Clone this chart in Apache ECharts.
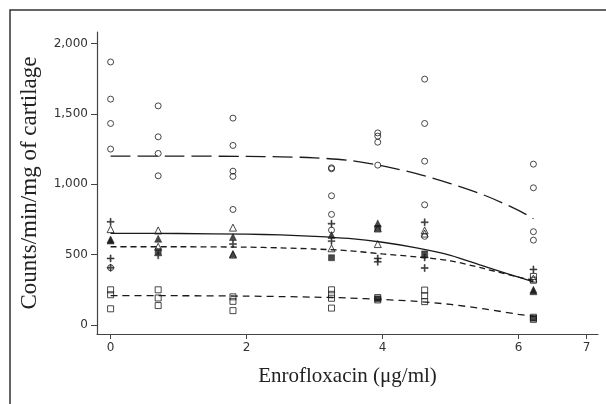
<!DOCTYPE html>
<html>
<head>
<meta charset="utf-8">
<script src="https://cdn.jsdelivr.net/npm/echarts@6/dist/echarts.min.js"></script>
<style>
html, body { margin: 0; padding: 0; background: #fff; }
#chart { width: 606px; height: 404px; }
</style>
</head>
<body>
<div id="chart"></div>
<script>
// tick positions
var xTicks = [0, 2, 4, 6, 7];
var yTicks = [0, 500, 1000, 1500, 2000];

// points, [concentration, counts]
var circles = [
    [0, 1869], [0, 1605], [0, 1432], [0, 1250], [0, 407],
    [0.7, 1557], [0.7, 1337], [0.7, 1219], [0.7, 1060],
    [1.8, 1470], [1.8, 1276], [1.8, 1093], [1.8, 1056], [1.8, 821],
    [3.25, 1117], [3.25, 1110], [3.25, 918], [3.25, 786], [3.25, 674],
    [3.93, 1365], [3.93, 1342], [3.93, 1299], [3.93, 1136],
    [4.62, 1747], [4.62, 1432], [4.62, 1164], [4.62, 854], [4.62, 630],
    [6.22, 1143], [6.22, 975], [6.22, 663], [6.22, 603]
];
var triOpen = [
    [0, 681], [0.7, 672], [0.7, 556], [1.8, 692], [1.8, 500],
    [3.25, 545], [3.93, 686], [3.93, 575], [4.62, 672], [4.62, 650], [6.22, 330]
];
var triFilled = [
    [0, 608], [0, 600], [0.7, 613], [1.8, 625], [1.8, 505],
    [3.25, 639], [3.93, 722], [6.22, 250], [6.22, 240]
];
var plus = [
    [0, 733], [0, 473], [0, 407], [0.7, 495], [1.8, 575],
    [3.25, 720], [3.25, 596], [3.93, 473], [3.93, 449],
    [4.62, 730], [4.62, 480], [4.62, 405], [6.22, 395]
];
var sqOpen = [
    [0, 250], [0, 215], [0, 115], [0.7, 250], [0.7, 192], [0.7, 138],
    [1.8, 200], [1.8, 168], [1.8, 102],
    [3.25, 250], [3.25, 218], [3.25, 190], [3.25, 120],
    [3.93, 195], [3.93, 178], [4.62, 248], [4.62, 208], [4.62, 166],
    [6.22, 345], [6.22, 318], [6.22, 55], [6.22, 40]
];
var sqFilled = [
    [0.7, 522], [3.25, 478], [3.93, 686], [3.93, 186], [4.62, 505], [6.22, 48]
];

// fitted curves
var fitCircles = [[0, 1200], [1, 1200], [2, 1198], [2.5, 1195], [3, 1188], [3.5, 1170], [4, 1130], [4.5, 1075], [5, 1005], [5.5, 922], [6, 815], [6.22, 755]];
var fitTri = [[0, 651], [1, 650], [2, 645], [2.5, 640], [3, 630], [3.5, 615], [4, 588], [4.5, 548], [5, 495], [5.5, 416], [6, 340], [6.22, 307]];
var fitPlus = [[0, 556], [1, 556], [2, 553], [2.5, 548], [3, 540], [3.5, 528], [4, 505], [4.5, 484], [5, 456], [5.5, 400], [6, 340], [6.22, 318]];
var fitSq = [[0, 208], [1, 208], [2, 205], [2.5, 202], [3, 198], [3.5, 192], [4, 181], [4.5, 168], [5, 146], [5.5, 114], [6, 76], [6.22, 62]];

var ink = '#1a1a1a';
var plusPath = 'path://M4.3,0H5.7V4.3H10V5.7H5.7V10H4.3V5.7H0V4.3H4.3Z';

function fitLine(data, dash) {
    return {
        type: 'line', data: data, smooth: 0.3, showSymbol: false, silent: true,
        lineStyle: { color: ink, width: 1.3, type: dash }
    };
}

function marks(data, symbol, size, filled) {
    return {
        type: 'scatter', data: data, symbol: symbol, symbolSize: size, silent: true,
        itemStyle: {
            color: filled ? ink : 'rgba(255,255,255,0)',
            borderColor: ink,
            borderWidth: filled ? 0.6 : 1
        }
    };
}

var chart = echarts.init(document.getElementById('chart'), null, { renderer: 'canvas' });
chart.setOption({
    animation: false,
    backgroundColor: '#fff',
    graphic: [{
        type: 'rect', silent: true,
        shape: { x: 10, y: 10, width: 640, height: 440 },
        style: { fill: 'none', stroke: '#333', lineWidth: 1.5 }
    }],
    grid: { left: 97, right: 8, top: 32, bottom: 70 },
    xAxis: {
        type: 'value', min: -0.2, max: 7.17,
        name: 'Enrofloxacin (\u03bcg/ml)', nameLocation: 'middle', nameGap: 32,
        nameTextStyle: { fontFamily: 'Liberation Serif', fontSize: 21, color: '#222' },
        axisLine: { onZero: false, lineStyle: { color: '#444', width: 1.2 } },
        axisTick: { customValues: xTicks, length: 5, lineStyle: { color: '#444' } },
        axisLabel: { customValues: xTicks, margin: 8, fontFamily: 'DejaVu Sans', fontSize: 12, color: '#333' },
        splitLine: { show: false }
    },
    yAxis: {
        type: 'value', min: -64, max: 2082,
        name: 'Counts/min/mg of cartilage', nameLocation: 'middle', nameGap: 56,
        nameTextStyle: { fontFamily: 'Liberation Serif', fontSize: 23, color: '#222' },
        axisLine: { show: true, onZero: false, lineStyle: { color: '#444', width: 1.2 } },
        axisTick: { show: true, customValues: yTicks, length: 6, lineStyle: { color: '#444' } },
        axisLabel: {
            customValues: yTicks, margin: 9, fontFamily: 'DejaVu Sans', fontSize: 12, color: '#333',
            formatter: function (v) { return v.toLocaleString('en-US'); }
        },
        splitLine: { show: false }
    },
    series: [
        fitLine(fitCircles, [20, 7]),
        fitLine(fitTri, 'solid'),
        fitLine(fitPlus, [6, 4]),
        fitLine(fitSq, [7, 5]),
        marks(circles, 'circle', 6, false),
        marks(triOpen, 'triangle', 7, false),
        marks(triFilled, 'triangle', 7, true),
        marks(plus, plusPath, 7, true),
        marks(sqOpen, 'rect', 6, false),
        marks(sqFilled, 'rect', 6, true)
    ]
});
</script>
</body>
</html>
